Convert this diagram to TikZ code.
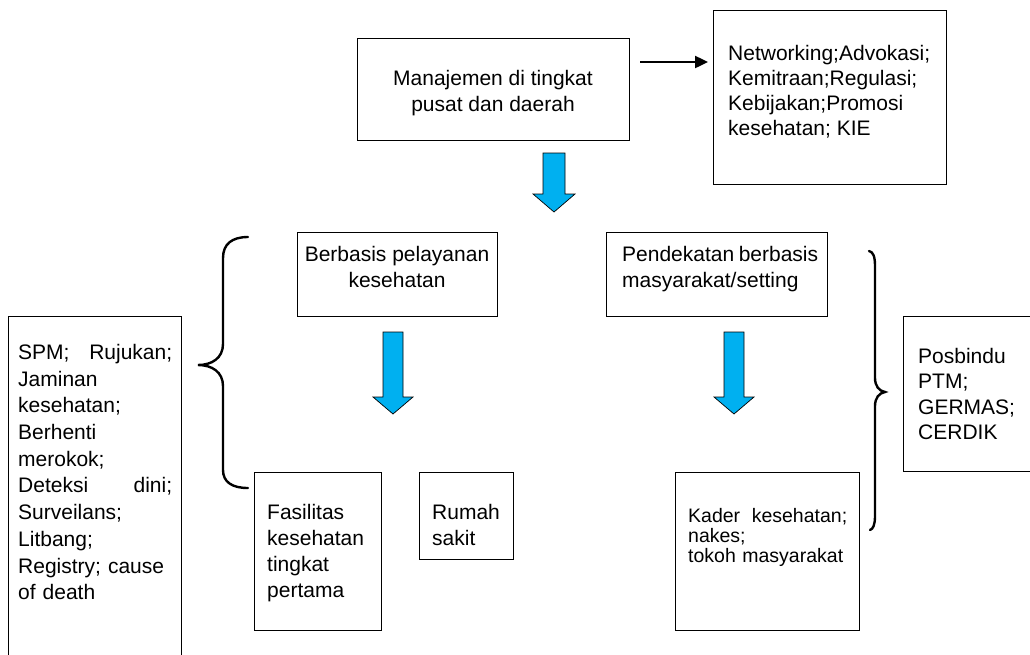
\documentclass[tikz,border=0pt]{standalone}
\usepackage{fontspec}
\setmainfont{Liberation Sans}
\usetikzlibrary{arrows.meta}
\definecolor{arrowblue}{HTML}{00B0F0}
\begin{document}
\begin{tikzpicture}[x=1pt,y=-1pt,
  box/.style={draw, line width=0.9pt, rectangle, inner sep=0pt},
  txt/.style={inner sep=0pt, font=\fontsize{21}{26}\selectfont},
  blockarrow/.style={draw=black, line width=0.7pt, fill=arrowblue, line join=miter},
  bracestyle/.style={line width=2.4pt, line cap=round},
  conn/.style={line width=2.4pt, -{Triangle[length=13pt,width=12pt]}}]
\useasboundingbox (0,0) rectangle (1030,654);

% boxes
\node[box, minimum width=272pt, minimum height=102pt] (man) at (493,89) {};
\node[box, minimum width=233pt, minimum height=174pt] (net) at (829.5,97) {};
\node[box, minimum width=200pt, minimum height=84pt] (yan) at (397,274) {};
\node[box, minimum width=221pt, minimum height=84pt] (mas) at (716.5,274) {};
\node[box, minimum width=173pt, minimum height=364pt] (left) at (94.5,498) {};
\node[box, minimum width=127pt, minimum height=158pt] (fas) at (317.5,551) {};
\node[box, minimum width=94pt, minimum height=87pt] (rs) at (466,515.5) {};
\node[box, minimum width=184pt, minimum height=158pt] (kad) at (767,551) {};
\node[box, minimum width=147pt, minimum height=155pt] (pos) at (976.5,393.5) {};

% texts
\node[txt, anchor=north, align=center] (tman) at (493,70) {Manajemen di tingkat\\pusat dan daerah};
\node[txt, anchor=north west, align=left, font=\fontsize{21}{25}\selectfont] (tnet) at (728,45)
  {Networking;Advokasi;\\Kemitraan;Regulasi;\\Kebijakan;Promosi\\kesehatan; KIE};
\node[txt, anchor=north, align=center] (tyan) at (397,246) {Berbasis pelayanan\\kesehatan};
\node[txt, anchor=north west, align=left, text width=196pt] (tmas) at (622,246)
  {Pendekatan\hfill berbasis\\masyarakat/setting};
\node[txt, anchor=north west, align=left, text width=154pt, font=\fontsize{21}{26.7}\selectfont] (tleft) at (18,344)
  {SPM;\hfill Rujukan;\\Jaminan\\kesehatan;\\Berhenti\\merokok;\\Deteksi\hfill dini;\\Surveilans;\\Litbang;\\Registry; cause\\of death};
\node[txt, anchor=north west, align=left] (tfas) at (267,504) {Fasilitas\\kesehatan\\tingkat\\pertama};
\node[txt, anchor=north west, align=left] (trs) at (432,504) {Rumah\\sakit};
\node[txt, anchor=north west, align=left, text width=159pt, font=\fontsize{19.5}{20}\selectfont] (tkad) at (688,508)
  {Kader\hfill kesehatan;\\nakes;\\tokoh masyarakat};
\node[txt, anchor=north west, align=left, font=\fontsize{21}{25.3}\selectfont] (tpos) at (918,348)
  {Posbindu\\PTM;\\GERMAS;\\CERDIK};

% black arrow
\coordinate (a1) at (640,62);
\coordinate (a2) at (708,62);
\draw[conn] (a1) -- (a2);

% blue block arrows
\draw[blockarrow] (543,153) -- (565,153) -- (565,194) -- (575,194) -- (554,212) -- (533,194) -- (543,194) -- cycle;
\draw[blockarrow] (383,332) -- (403,332) -- (403,397) -- (413,397) -- (393,414) -- (373,397) -- (383,397) -- cycle;
\draw[blockarrow] (724,332) -- (744,332) -- (744,397) -- (754,397) -- (734,414) -- (714,397) -- (724,397) -- cycle;

% braces
\draw[bracestyle] (248,237) .. controls (232,237) and (223,244) .. (223,258) -- (223,344)
  .. controls (223,358) and (212,365) .. (198,365)
  .. controls (212,365) and (223,372) .. (223,386) -- (223,470)
  .. controls (223,482) and (232,488) .. (248,488);
\draw[bracestyle] (869,251) .. controls (873,252) and (875,256) .. (875,266) -- (875,378)
  .. controls (875,386) and (879,391) .. (885,392)
  .. controls (879,393) and (875,398) .. (875,406) -- (875,516)
  .. controls (875,525) and (873,529) .. (870,530);
\end{tikzpicture}
\end{document}
